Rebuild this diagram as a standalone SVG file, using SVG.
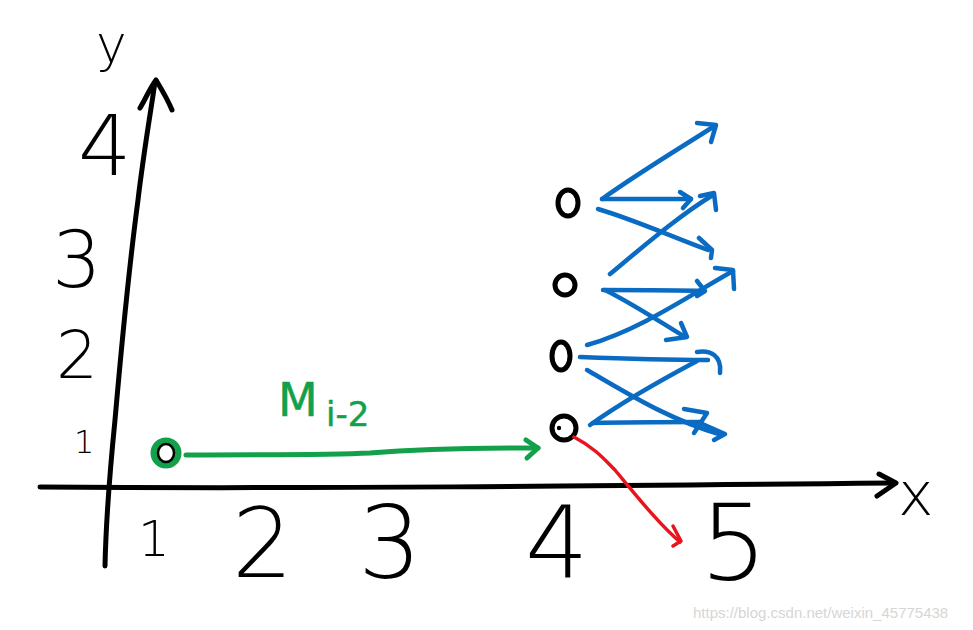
<svg xmlns="http://www.w3.org/2000/svg" width="973" height="630" viewBox="0 0 973 630">
<style>
.ax{fill:none;stroke:#000;stroke-width:5;stroke-linecap:round;stroke-linejoin:round}
.bl{fill:none;stroke:#0a6bc2;stroke-width:4.5;stroke-linecap:round;stroke-linejoin:round}
.gr{fill:none;stroke:#12a14a;stroke-width:5;stroke-linecap:round;stroke-linejoin:round}
.rd{fill:none;stroke:#e8141e;stroke-width:3.5;stroke-linecap:round;stroke-linejoin:round}
.nd{fill:none;stroke:#000;stroke-width:5}
.lb{font-family:"DejaVu Sans","Liberation Sans",Arial,sans-serif;font-weight:200;fill:#000}
.wm{font-family:"Liberation Sans",Arial,sans-serif;fill:#d6d6d6;font-size:15px}
</style>
<rect width="973" height="630" fill="#fff"/>
<g id="axes">
<path class="ax" d="M105,566 C106,520 110,470 115,420 C122,340 130,260 138,200 C144,150 151,110 155,82"/>
<path class="ax" d="M140,108 C146,98 150,88 156,80 C162,90 168,100 172,110"/>
<path class="ax" d="M40,487 C300,489 600,486 893,483"/>
<path class="ax" d="M879,474 L896,483 L877,496"/>
</g>
<g id="labels">
<text class="lb" x="898" y="515" font-size="60">x</text>
<text class="lb" x="96" y="62" font-size="52">y</text>
<text class="lb" x="138" y="556" font-size="50">1</text>
<text class="lb" x="232" y="577" font-size="96">2</text>
<text class="lb" x="358" y="578" font-size="100">3</text>
<text class="lb" x="525" y="577" font-size="100">4</text>
<text class="lb" x="700" y="580" font-size="106">5</text>
<text class="lb" x="78" y="175" font-size="84">4</text>
<text class="lb" x="52" y="287" font-size="78">3</text>
<text class="lb" x="56" y="378" font-size="66">2</text>
<text class="lb" x="74" y="453" font-size="32">1</text>
</g>
<g id="node-green">
<ellipse cx="166" cy="453" rx="12" ry="12" fill="none" stroke="#12a14a" stroke-width="7"/>
<ellipse cx="166" cy="453" rx="8" ry="9" fill="none" stroke="#000" stroke-width="2.5"/>
</g>
<g id="node-1"><ellipse class="nd" cx="568" cy="203" rx="10" ry="13"/></g>
<g id="node-2"><ellipse class="nd" cx="565" cy="285" rx="10" ry="10"/></g>
<g id="node-3"><ellipse class="nd" cx="561" cy="356" rx="9" ry="14"/></g>
<g id="node-4"><ellipse class="nd" cx="564" cy="428" rx="12" ry="12"/><circle cx="559" cy="428" r="2.2"/></g>
<g id="label-m">
<text x="278" y="416" font-family="DejaVu Sans,Liberation Sans,Arial,sans-serif" font-size="46" fill="#12a14a" stroke="#12a14a" stroke-width="0.5">M</text>
<text x="326" y="426" font-family="DejaVu Sans,Liberation Sans,Arial,sans-serif" font-size="34" fill="#12a14a" stroke="#12a14a" stroke-width="0.5">i-2</text>
</g>
<g id="connectors">
<path class="gr" d="M186,455 C280,455 330,455 370,453 C420,449 460,448 538,448"/>
<path class="gr" d="M526,440 L538,448 L527,458"/>
<path class="rd" d="M574,437 C595,448 605,460 615,470 C640,500 660,525 680,542"/>
<path class="rd" d="M673,526 L681,541 L673,546"/>
<path class="bl" d="M602,199 C640,172 680,148 713,127"/>
<path class="bl" d="M697,123 L716,125 L711,142"/>
<path class="bl" d="M602,199 L691,199"/>
<path class="bl" d="M680,192 L691,199 L683,208"/>
<path class="bl" d="M598,209 C635,220 670,236 708,250"/>
<path class="bl" d="M699,238 L712,250 L711,258"/>
<path class="bl" d="M610,274 C645,245 680,215 713,195"/>
<path class="bl" d="M700,196 L714,193 L716,210"/>
<path class="bl" d="M603,290 C640,290 675,290 704,291"/>
<path class="bl" d="M697,281 L705,291 L697,296"/>
<path class="bl" d="M605,290 C635,305 660,322 685,337"/>
<path class="bl" d="M681,323 L687,337 L666,340"/>
<path class="bl" d="M587,345 C640,330 690,295 733,271"/>
<path class="bl" d="M715,268 L733,270 L734,289"/>
<path class="bl" d="M580,357 C630,359 670,360 708,360"/>
<path class="bl" d="M697,352 C710,350 722,355 720,373"/>
<path class="bl" d="M587,370 C630,395 670,420 722,435"/>
<path class="bl" d="M700,423 L725,434 L714,440"/>
<path class="bl" d="M590,425 C625,400 665,378 697,361"/>
<path class="bl" d="M593,423 C630,422 665,422 700,422"/>
<path class="bl" d="M684,409 L707,413 L694,433"/>
</g>
<text class="wm" x="693" y="618">https://blog.csdn.net/weixin_45775438</text>
</svg>
